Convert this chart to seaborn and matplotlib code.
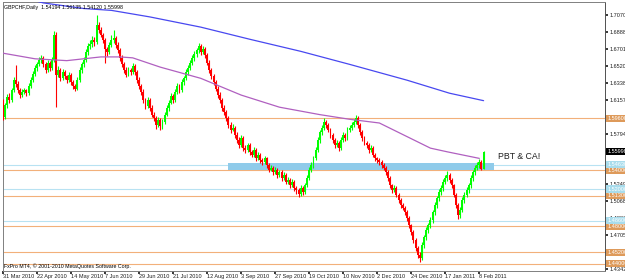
import numpy as np
import pandas as pd
import matplotlib
matplotlib.use("Agg")
import matplotlib.pyplot as plt
import seaborn as sns

sns.set_theme(style="white")
plt.rcParams['font.family'] = ['Liberation Sans', 'DejaVu Sans']

opens = [1.614,1.597,1.610,1.619,1.616,1.626,1.637,1.633,1.626,1.621,1.624,1.626,1.623,1.631,1.637,1.644,1.650,1.654,1.659,1.661,
1.654,1.648,1.656,1.650,1.659,1.686,1.643,1.648,1.639,1.646,1.641,1.637,1.643,1.635,1.631,1.628,1.637,1.648,1.654,1.659,
1.667,1.674,1.676,1.680,1.678,1.696,1.691,1.686,1.680,1.671,1.667,1.675,1.680,1.682,1.675,1.669,1.661,1.654,1.648,1.643,
1.648,1.646,1.652,1.646,1.637,1.631,1.624,1.616,1.609,1.616,1.607,1.600,1.596,1.589,1.594,1.588,1.592,1.600,1.607,1.613,
1.620,1.616,1.624,1.631,1.626,1.635,1.639,1.646,1.650,1.656,1.661,1.665,1.669,1.674,1.667,1.671,1.664,1.656,1.648,1.641,
1.635,1.628,1.621,1.616,1.607,1.603,1.596,1.589,1.584,1.586,1.578,1.573,1.567,1.575,1.564,1.562,1.567,1.560,1.557,1.562,
1.553,1.557,1.551,1.549,1.553,1.546,1.541,1.543,1.538,1.541,1.535,1.538,1.532,1.535,1.528,1.530,1.524,1.528,1.521,1.519,
1.515,1.521,1.517,1.524,1.532,1.541,1.546,1.553,1.562,1.573,1.581,1.586,1.592,1.589,1.584,1.578,1.573,1.567,1.570,1.564,
1.573,1.578,1.575,1.584,1.586,1.589,1.592,1.596,1.589,1.581,1.575,1.570,1.567,1.562,1.564,1.557,1.553,1.551,1.549,1.546,
1.543,1.538,1.532,1.524,1.519,1.521,1.514,1.508,1.503,1.500,1.495,1.489,1.481,1.474,1.465,1.457,1.449,1.446,1.460,1.468,
1.476,1.481,1.487,1.495,1.503,1.510,1.517,1.521,1.528,1.532,1.535,1.530,1.524,1.514,1.503,1.492,1.498,1.508,1.514,1.519,
1.524,1.532,1.538,1.543,1.546,1.549,1.54194]
highs = [1.617,1.612,1.622,1.623,1.629,1.640,1.653,1.636,1.629,1.627,1.629,1.628,1.634,1.640,1.647,1.653,1.657,1.662,1.664,1.663,
1.657,1.659,1.658,1.662,1.690,1.689,1.652,1.650,1.649,1.648,1.643,1.646,1.645,1.637,1.633,1.640,1.651,1.657,1.662,1.670,
1.677,1.680,1.684,1.683,1.707,1.699,1.694,1.688,1.682,1.673,1.678,1.686,1.691,1.685,1.678,1.672,1.664,1.657,1.651,1.651,
1.650,1.655,1.654,1.648,1.640,1.633,1.627,1.618,1.619,1.618,1.610,1.603,1.598,1.597,1.596,1.595,1.603,1.610,1.616,1.623,
1.622,1.627,1.634,1.633,1.638,1.642,1.649,1.653,1.659,1.664,1.668,1.672,1.677,1.676,1.674,1.673,1.666,1.659,1.650,1.644,
1.637,1.631,1.624,1.618,1.610,1.605,1.598,1.592,1.590,1.588,1.581,1.576,1.578,1.577,1.567,1.570,1.569,1.562,1.565,1.564,
1.560,1.559,1.553,1.556,1.555,1.548,1.546,1.545,1.544,1.543,1.541,1.540,1.538,1.537,1.533,1.532,1.531,1.530,1.523,1.521,
1.524,1.523,1.527,1.535,1.544,1.549,1.556,1.565,1.576,1.584,1.589,1.596,1.594,1.591,1.586,1.580,1.575,1.573,1.572,1.576,
1.581,1.580,1.587,1.589,1.592,1.595,1.600,1.598,1.591,1.583,1.577,1.572,1.569,1.567,1.566,1.559,1.555,1.553,1.551,1.548,
1.545,1.540,1.534,1.526,1.524,1.523,1.516,1.510,1.505,1.502,1.497,1.491,1.483,1.476,1.467,1.459,1.452,1.463,1.471,1.479,
1.484,1.490,1.498,1.506,1.513,1.520,1.524,1.531,1.535,1.539,1.537,1.532,1.526,1.516,1.505,1.501,1.511,1.517,1.522,1.527,
1.535,1.541,1.546,1.549,1.552,1.551,1.56135]
lows = [1.594,1.595,1.607,1.613,1.614,1.624,1.630,1.623,1.618,1.619,1.622,1.620,1.621,1.629,1.635,1.642,1.647,1.652,1.655,1.651,
1.645,1.646,1.647,1.648,1.657,1.608,1.640,1.636,1.637,1.638,1.634,1.635,1.632,1.628,1.625,1.626,1.635,1.645,1.651,1.657,
1.664,1.670,1.673,1.674,1.676,1.688,1.683,1.677,1.655,1.663,1.665,1.673,1.677,1.672,1.666,1.658,1.651,1.645,1.640,1.641,
1.643,1.644,1.643,1.634,1.628,1.621,1.613,1.606,1.607,1.604,1.597,1.593,1.585,1.587,1.584,1.585,1.590,1.598,1.604,1.611,
1.612,1.614,1.622,1.623,1.624,1.632,1.637,1.643,1.648,1.653,1.658,1.662,1.666,1.664,1.665,1.661,1.653,1.645,1.638,1.632,
1.625,1.618,1.612,1.604,1.600,1.593,1.586,1.580,1.582,1.575,1.570,1.564,1.565,1.561,1.559,1.560,1.557,1.554,1.555,1.550,
1.551,1.548,1.546,1.547,1.543,1.538,1.539,1.535,1.536,1.532,1.533,1.529,1.530,1.525,1.526,1.521,1.522,1.518,1.515,1.511,
1.513,1.514,1.515,1.522,1.530,1.538,1.543,1.551,1.560,1.570,1.578,1.584,1.586,1.581,1.575,1.570,1.564,1.565,1.561,1.562,
1.571,1.572,1.573,1.581,1.583,1.587,1.590,1.586,1.578,1.572,1.567,1.564,1.559,1.560,1.554,1.550,1.548,1.546,1.543,1.540,
1.535,1.529,1.521,1.516,1.517,1.511,1.505,1.500,1.497,1.492,1.486,1.478,1.471,1.462,1.454,1.446,1.442,1.444,1.457,1.465,
1.473,1.478,1.484,1.492,1.500,1.507,1.514,1.518,1.525,1.529,1.527,1.521,1.511,1.500,1.488,1.489,1.495,1.505,1.511,1.516,
1.521,1.529,1.535,1.540,1.543,1.540,1.54120]
closes = [1.597,1.610,1.619,1.616,1.626,1.637,1.633,1.626,1.621,1.624,1.626,1.623,1.631,1.637,1.644,1.650,1.654,1.659,1.661,1.654,
1.648,1.656,1.650,1.659,1.686,1.643,1.648,1.639,1.646,1.641,1.637,1.643,1.635,1.631,1.628,1.637,1.648,1.654,1.659,1.667,
1.674,1.676,1.680,1.678,1.696,1.691,1.686,1.680,1.671,1.667,1.675,1.680,1.682,1.675,1.669,1.661,1.654,1.648,1.643,1.648,
1.646,1.652,1.646,1.637,1.631,1.624,1.616,1.609,1.616,1.607,1.600,1.596,1.589,1.594,1.588,1.592,1.600,1.607,1.613,1.620,
1.616,1.624,1.631,1.626,1.635,1.639,1.646,1.650,1.656,1.661,1.665,1.669,1.674,1.667,1.671,1.664,1.656,1.648,1.641,1.635,
1.628,1.621,1.616,1.607,1.603,1.596,1.589,1.584,1.586,1.578,1.573,1.567,1.575,1.564,1.562,1.567,1.560,1.557,1.562,1.553,
1.557,1.551,1.549,1.553,1.546,1.541,1.543,1.538,1.541,1.535,1.538,1.532,1.535,1.528,1.530,1.524,1.528,1.521,1.519,1.515,
1.521,1.517,1.524,1.532,1.541,1.546,1.553,1.562,1.573,1.581,1.586,1.592,1.589,1.584,1.578,1.573,1.567,1.570,1.564,1.573,
1.578,1.575,1.584,1.586,1.589,1.592,1.596,1.589,1.581,1.575,1.570,1.567,1.562,1.564,1.557,1.553,1.551,1.549,1.546,1.543,
1.538,1.532,1.524,1.519,1.521,1.514,1.508,1.503,1.500,1.495,1.489,1.481,1.474,1.465,1.457,1.449,1.446,1.460,1.468,1.476,
1.481,1.487,1.495,1.503,1.510,1.517,1.521,1.528,1.532,1.535,1.530,1.524,1.514,1.503,1.492,1.498,1.508,1.514,1.519,1.524,
1.532,1.538,1.543,1.546,1.549,1.54194,1.55998]

date_labels = ["31 Mar 2010","22 Apr 2010","14 May 2010","7 Jun 2010","29 Jun 2010","21 Jul 2010","12 Aug 2010",
               "3 Sep 2010","27 Sep 2010","19 Oct 2010","10 Nov 2010","2 Dec 2010","24 Dec 2010","17 Jan 2011","8 Feb 2011"]
price_ticks = [1.70700,1.68885,1.67015,1.65200,1.63385,1.61570,1.59755,1.57940,1.56125,1.54310,1.52495,1.50680,
               1.48865,1.47050,1.45235,1.43420]
hidden_ticks = [1.59755, 1.56125, 1.54310, 1.45235]

ma_slow_bar = [14,19,38,51,69,93,116,140,163,190,210,226]
ma_slow_val = [1.723,1.720,1.714,1.712,1.705,1.694,1.681,1.668,1.654,1.637,1.623,1.615]
ma_fast_bar = [0,15,30,46,55,61,74,93,112,130,149,163,177,193,201,209,224]
ma_fast_val = [1.666,1.660,1.658,1.662,1.662,1.661,1.651,1.639,1.621,1.608,1.600,1.595,1.591,1.573,1.564,1.560,1.553]

orange_levels = [1.59600,1.54000,1.51300,1.48000,1.45200,1.44000]
blue_levels = [1.54630,1.52000,1.48600]
zone_bars = (106, 231)
zone_prices = (1.5400, 1.5485)
last_price = 1.55998
title = "GBPCHF,Daily  1.54194 1.56135 1.54120 1.55998"
note = "PBT & CA!"
footer = "FxPro MT4, \u00a9 2001-2010 MetaQuotes Software Corp."

df = pd.DataFrame({"bar": np.arange(len(closes)), "open": opens, "high": highs, "low": lows, "close": closes})

W, H = 625, 280
fig = plt.figure(figsize=(W/100, H/100), dpi=100)
ax = fig.add_axes([3/W, 9/H, 602/W, 269/H])
ax.set_xlim(0.47, 283.1)
ax.set_ylim(1.4320, 1.7210)

up = df[df.close >= df.open]
dn = df[df.close < df.open]
for sub, col in [(up, "#00FF00"), (dn, "#FF0000")]:
    ax.vlines(sub.bar, sub.low, sub.high, color=col, linewidth=0.8, zorder=3)
    ax.bar(sub.bar, (sub.close - sub.open).abs().clip(lower=0.0008), bottom=sub[["open", "close"]].min(axis=1),
           width=0.9, color=col, linewidth=0, zorder=3)

sns.lineplot(x=ma_slow_bar, y=ma_slow_val, ax=ax, color="#4848F0", linewidth=0.9, zorder=4)
sns.lineplot(x=ma_fast_bar, y=ma_fast_val, ax=ax, color="#B060C0", linewidth=0.9, zorder=4)

for lv in orange_levels:
    ax.axhline(lv, color="#F2B07A", linewidth=0.8, zorder=2)
for lv in blue_levels:
    ax.axhline(lv, color="#B8E2F2", linewidth=0.8, zorder=2)
ax.fill_between(zone_bars, zone_prices[0], zone_prices[1], color="#8FCBEA", linewidth=0, zorder=2.5)

ax.text(233, 1.5550, note, fontsize=6.3, color="#202020", va="center", ha="left", zorder=5)
ax.text(0.002, 0.99, title, transform=ax.transAxes, fontsize=3.8, va="top", ha="left", color="black", zorder=6)
ax.text(0.002, 0.008, footer, transform=ax.transAxes, fontsize=3.8, va="bottom", ha="left", color="black", zorder=6)

ax.set_xticks(np.arange(len(date_labels)) * 16)
ax.set_xticklabels(date_labels, fontsize=4.0, ha="left")
ax.tick_params(axis="x", length=2, pad=0.5, colors="#202020", bottom=True)
ax.yaxis.tick_right()
ax.set_yticks(price_ticks)
ax.set_yticklabels(["" if v in hidden_ticks else f"{v:.5f}" for v in price_ticks], fontsize=4.0)
ax.tick_params(axis="y", length=2, pad=1, colors="#202020", right=True)

tr = ax.get_yaxis_transform()
for lv in orange_levels:
    ax.text(1.004, lv, f"{lv:.5f}", transform=tr, fontsize=4.0, color="white", va="center", ha="left", zorder=7,
            clip_on=False, bbox=dict(boxstyle="square,pad=0.2", fc="#DE9A5A", ec="none"))
for lv in blue_levels:
    ax.text(1.004, lv, f"{lv:.5f}", transform=tr, fontsize=4.0, color="white", va="center", ha="left", zorder=7,
            clip_on=False, bbox=dict(boxstyle="square,pad=0.2", fc="#A8DCEC", ec="none"))
ax.text(1.004, last_price, f"{last_price:.5f}", transform=tr, fontsize=4.0, color="white", va="center", ha="left",
        zorder=8, clip_on=False, bbox=dict(boxstyle="square,pad=0.2", fc="black", ec="none"))

for s in ax.spines.values():
    s.set_color("#808080")
    s.set_linewidth(0.7)
ax.spines["right"].set_color("#505050")

fig.savefig("out.png", dpi=100, facecolor="white")
